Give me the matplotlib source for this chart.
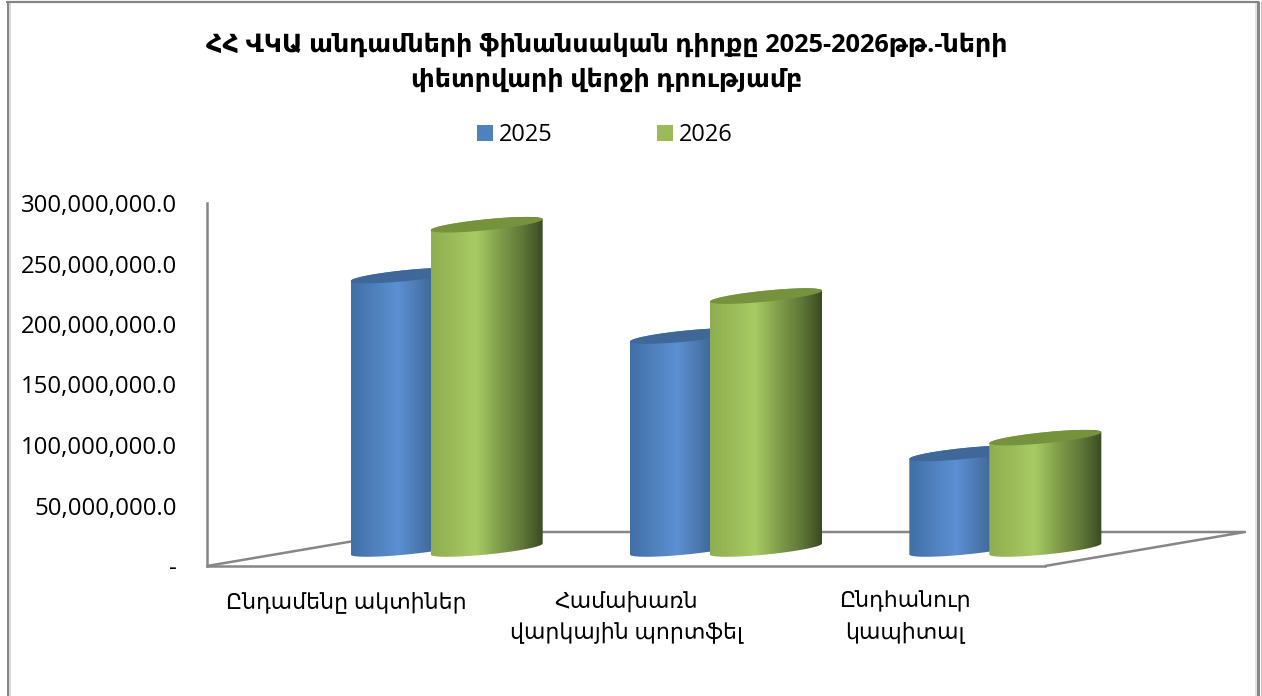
import numpy as np
import matplotlib
matplotlib.use("Agg")
import matplotlib.pyplot as plt
from matplotlib.colors import LinearSegmentedColormap
from matplotlib.patches import PathPatch, Patch, Polygon
from matplotlib.path import Path
from matplotlib.lines import Line2D
from matplotlib.ticker import FuncFormatter

title = "ՀՀ ՎԿԱ անդամների ֆինանսական դիրքը 2025-2026թթ.-ների\nփետրվարի վերջի դրությամբ"
categories = ["Ընդամենը ակտիներ", "Համախառն\nվարկային պորտֆել", "Ընդհանուր\nկապիտալ"]
series_names = ["2025", "2026"]
values_2025 = [226e6, 176e6, 79e6]
values_2026 = [268e6, 209e6, 92e6]
yticks = [0, 50e6, 100e6, 150e6, 200e6, 250e6, 300e6]

FAM = ["Open Sans", "DejaVu Sans"]
plt.rcParams["font.family"] = FAM
GREY = "#868686"
W, H = 1262, 696
fig = plt.figure(figsize=(W / 100, H / 100), dpi=100, facecolor="white")
ax = fig.add_axes([207 / W, 1 - 566 / H, (1045 - 207) / W, (566 - 203) / H])
ax.set_xlim(-0.5, 2.5)
ax.set_ylim(0, 300e6)
ax.set_autoscale_on(False)

PX_X = 3 / 838          # category units per pixel
PX_Y = 300e6 / 363      # value units per pixel
depth_x, depth_y = 200 * PX_X, 34 * PX_Y

# chart walls
for s in ["top", "right"]:
    ax.spines[s].set_visible(False)
for s in ["left", "bottom"]:
    ax.spines[s].set_color(GREY)
    ax.spines[s].set_linewidth(1.8)
floor_x = [-0.5, -0.5 + depth_x, 2.5 + depth_x, 2.5]
floor_y = [0, depth_y, depth_y, 0]
ax.plot(floor_x, floor_y, color=GREY, lw=1.8, clip_on=False, zorder=1, solid_capstyle="butt")

cmap_blue = LinearSegmentedColormap.from_list("b", [(0, "#416FA6"), (0.22, "#4F81BD"), (0.42, "#5B90D3"),
                                                    (0.6, "#4C79B0"), (0.8, "#3A5F8C"), (1, "#263E5C")])
cmap_green = LinearSegmentedColormap.from_list("g", [(0, "#8FAE50"), (0.2, "#9BBB59"), (0.4, "#A8CC64"),
                                                     (0.62, "#7F9C49"), (0.82, "#5F7738"), (1, "#3B4A22")])
top_blue, top_green = "#3F6797", "#76923C"
grad = np.linspace(0, 1, 256).reshape(1, -1)

half_w = 56 * PX_X
tilt = 5.5 * PX_Y
minor = 5.5 * PX_Y


def ellipse_pts(cx, cy, t):
    return np.column_stack([cx + half_w * np.cos(t), cy + tilt * np.cos(t) + minor * np.sin(t)])


def cylinder(cx, value, cmap, top_col, z):
    base = depth_y / 2
    top = base + value
    cx = cx + depth_x / 2
    t_low = np.linspace(np.pi, 2 * np.pi, 60)
    t_up = np.linspace(0, np.pi, 60)
    lower = ellipse_pts(cx, base, t_low)
    upper = ellipse_pts(cx, top, t_up)
    body = np.vstack([lower, upper, lower[:1]])
    im = ax.imshow(grad, cmap=cmap, aspect="auto", zorder=z, interpolation="bilinear",
                   extent=[cx - half_w, cx + half_w, 0, top + minor * 3])
    clip = PathPatch(Path(body), transform=ax.transData)
    im.set_clip_box(fig.bbox)
    im.set_clip_path(clip)
    cap = ellipse_pts(cx, top, np.linspace(0, 2 * np.pi, 120))
    ax.add_patch(Polygon(cap, closed=True, facecolor=top_col, edgecolor="none", zorder=z + 0.1, clip_on=False))


bar_off = 40 * PX_X
for i in range(len(categories)):
    cylinder(i - bar_off, values_2025[i], cmap_blue, top_blue, 2 + 2 * i)
    cylinder(i + bar_off, values_2026[i], cmap_green, top_green, 3 + 2 * i)

ax.set_xlim(-0.5, 2.5)
ax.set_ylim(0, 300e6)

ax.set_yticks(yticks)
ax.yaxis.set_major_formatter(FuncFormatter(lambda v, _: "-" if v == 0 else f"{v:,.1f}"))
ax.tick_params(axis="y", length=0, pad=21.5, labelsize=17.25, labelcolor="black")
ax.set_xticks(range(len(categories)))
ax.set_xticklabels(categories, fontsize=15.8, linespacing=1.54)
ax.tick_params(axis="x", length=0, pad=18)

fig.suptitle(title, x=607 / W, y=1 - 63 / H, va="center", ha="center",
             fontsize=18.3, fontweight="bold", linespacing=1.51)

handles = [Patch(facecolor="#4F81BD", edgecolor="none"), Patch(facecolor="#9BBB59", edgecolor="none")]
fig.legend(handles, series_names, ncol=2, frameon=False, fontsize=17,
           loc="center", bbox_to_anchor=(605 / W, 1 - 135 / H), handlelength=0.69, handleheight=0.69,
           handletextpad=0.26, columnspacing=4.4)

# outer frame of the chart
for xs, ys, c, lw in [([7.5, 7.5], [1, H], GREY, 3), ([10, 10], [3, H], "#D9D9D9", 2),
                      ([6, 1259], [2, 2], GREY, 2.2), ([1258, 1258], [1, H], GREY, 3),
                      ([1256, 1256], [3, H], "#D9D9D9", 1.5), ([1260.5, 1260.5], [1, H], "#BFBFBF", 1)]:
    fig.add_artist(Line2D(np.array(xs) / W, 1 - np.array(ys) / H, color=c, lw=lw * 0.72,
                          transform=fig.transFigure, solid_capstyle="butt"))

fig.savefig("out.png", dpi=100)
